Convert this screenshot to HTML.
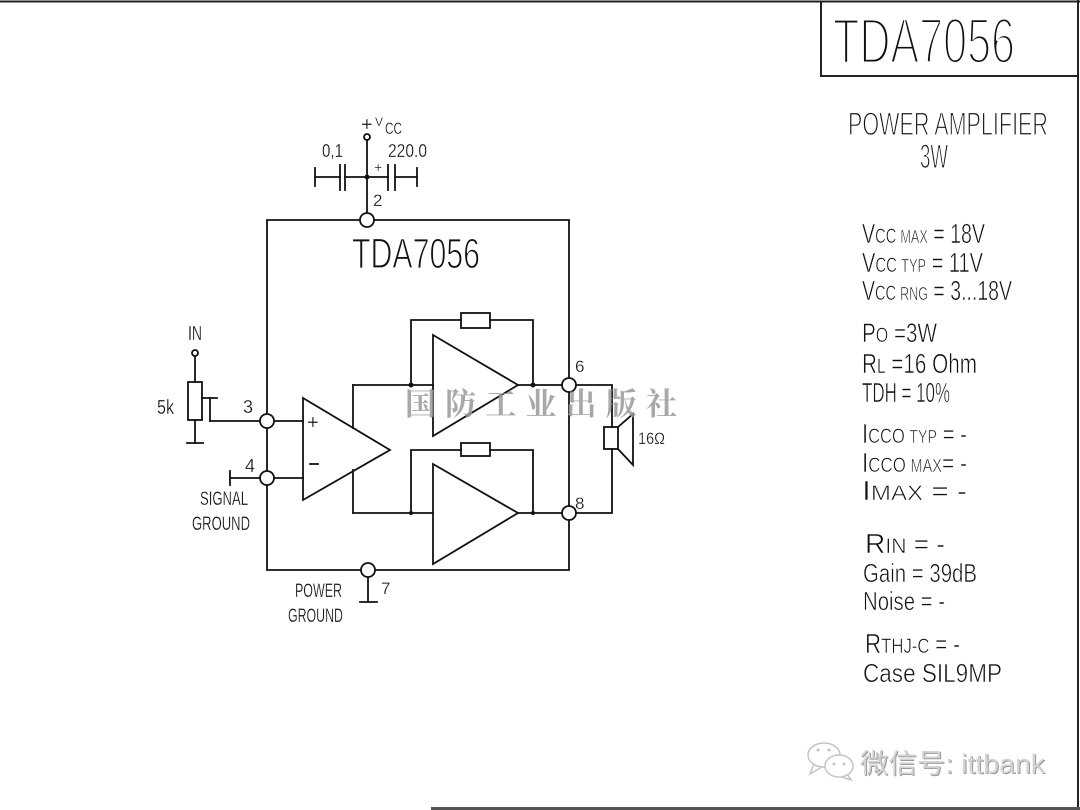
<!DOCTYPE html>
<html><head><meta charset="utf-8"><style>
html,body{margin:0;padding:0;background:#fff;}
svg{display:block;}
text{font-family:"Liberation Sans","Noto Sans CJK SC",sans-serif;fill:#111;}
.t1{stroke:#fff;stroke-width:3;}
.t2{stroke:#fff;stroke-width:1.2;}
.t3{stroke:#fff;stroke-width:0.6;}
.t4{stroke:#fff;stroke-width:0.25;}
</style></head><body>
<svg width="1080" height="810" viewBox="0 0 1080 810" xmlns="http://www.w3.org/2000/svg" xml:space="preserve">
<rect width="1080" height="810" fill="#fff"/>
<!-- frame -->
<line x1="0" y1="1.5" x2="1080" y2="1.5" stroke="#222" stroke-width="2"/>
<line x1="1078" y1="0" x2="1078" y2="810" stroke="#222" stroke-width="2"/>
<line x1="431" y1="808.5" x2="1080" y2="808.5" stroke="#555" stroke-width="3"/>
<rect x="821" y="1.5" width="257" height="74.5" fill="none" stroke="#222" stroke-width="2"/>
<text class="t1" x="833" y="63" font-size="64" textLength="182" lengthAdjust="spacingAndGlyphs">TDA7056</text>
<text class="t2" x="848" y="135" font-size="32" textLength="200" lengthAdjust="spacingAndGlyphs">POWER  AMPLIFIER</text>
<text class="t2" x="920" y="168" font-size="34" textLength="28" lengthAdjust="spacingAndGlyphs">3W</text>

<!-- specs -->
<g class="t3">
<text x="862" y="243" textLength="123" lengthAdjust="spacingAndGlyphs"><tspan font-size="28">V</tspan><tspan font-size="21">CC </tspan><tspan font-size="18">MAX</tspan><tspan font-size="28"> = 18V</tspan></text>
<text x="862" y="272" textLength="121" lengthAdjust="spacingAndGlyphs"><tspan font-size="28">V</tspan><tspan font-size="21">CC </tspan><tspan font-size="18">TYP</tspan><tspan font-size="28">  = 11V</tspan></text>
<text x="862" y="300" textLength="150" lengthAdjust="spacingAndGlyphs"><tspan font-size="28">V</tspan><tspan font-size="21">CC </tspan><tspan font-size="18">RNG</tspan><tspan font-size="28"> = 3...18V</tspan></text>
<text x="862" y="342" textLength="75" lengthAdjust="spacingAndGlyphs"><tspan font-size="27">P</tspan><tspan font-size="21">O</tspan><tspan font-size="27">  =3W</tspan></text>
<text x="862" y="373" textLength="115" lengthAdjust="spacingAndGlyphs"><tspan font-size="28">R</tspan><tspan font-size="21">L</tspan><tspan font-size="28">  =16  Ohm</tspan></text>
<text x="862" y="402" font-size="28" textLength="88" lengthAdjust="spacingAndGlyphs">TDH = 10%</text>
<text x="862" y="443" textLength="105" lengthAdjust="spacingAndGlyphs"><tspan font-size="28">I</tspan><tspan font-size="21">CCO </tspan><tspan font-size="18">TYP</tspan><tspan font-size="26"> = -</tspan></text>
<text x="862" y="472" textLength="105" lengthAdjust="spacingAndGlyphs"><tspan font-size="28">I</tspan><tspan font-size="21">CCO </tspan><tspan font-size="18">MAX</tspan><tspan font-size="26">= -</tspan></text>
<text x="862" y="500" textLength="105" lengthAdjust="spacingAndGlyphs"><tspan font-size="28">I</tspan><tspan font-size="21">MAX</tspan><tspan font-size="26">  =     -</tspan></text>
<text x="865" y="553" textLength="80" lengthAdjust="spacingAndGlyphs"><tspan font-size="28">R</tspan><tspan font-size="21">IN</tspan><tspan font-size="26">   =  -</tspan></text>
<text x="863" y="582" font-size="26" textLength="114" lengthAdjust="spacingAndGlyphs">Gain  =  39dB</text>
<text x="863" y="610" font-size="26" textLength="82" lengthAdjust="spacingAndGlyphs">Noise = -</text>
<text x="865" y="653" textLength="95" lengthAdjust="spacingAndGlyphs"><tspan font-size="28">R</tspan><tspan font-size="21">THJ-C</tspan><tspan font-size="26"> = -</tspan></text>
<text x="863" y="682" font-size="26" textLength="139" lengthAdjust="spacingAndGlyphs">Case SIL9MP</text>
</g>

<!-- wechat watermark -->
<g fill="none" stroke="#c4c4c4" stroke-width="1.5">
<ellipse cx="824" cy="755" rx="16" ry="12"/>
<path d="M814 764 L810 774 L822 767"/>
<ellipse cx="839" cy="766" rx="14" ry="11" fill="#fff"/>
<path d="M847 774 L851 780 L842 777"/>
</g>
<g fill="#c4c4c4"><circle cx="818" cy="750" r="1.5"/><circle cx="829" cy="750" r="1.5"/><circle cx="834" cy="764" r="1.5"/><circle cx="844" cy="764" r="1.5"/></g>
<text x="861" y="774" font-size="27" style="fill:#9a9a9a" textLength="185" lengthAdjust="spacingAndGlyphs">微信号: ittbank</text>
<text x="860" y="773" font-size="27" style="fill:#d4d4d4" textLength="185" lengthAdjust="spacingAndGlyphs">微信号: ittbank</text>

<!-- circuit -->
<g stroke="#111" stroke-width="1.8" fill="none" stroke-linecap="square">
<line x1="367" y1="140" x2="367" y2="213"/>
<line x1="315" y1="177" x2="340" y2="177"/>
<line x1="345" y1="177" x2="388" y2="177"/>
<line x1="395" y1="177" x2="417" y2="177"/>
<line x1="340" y1="165" x2="340" y2="190"/>
<line x1="345" y1="165" x2="345" y2="190"/>
<line x1="388" y1="165" x2="388" y2="190"/>
<line x1="395" y1="165" x2="395" y2="190"/>
<line x1="315" y1="168" x2="315" y2="186"/>
<line x1="417" y1="168" x2="417" y2="186"/>
<polyline points="267,220 569,220 569,570 267,570 267,220"/>
<line x1="195" y1="356" x2="195" y2="382"/>
<rect x="188" y="382" width="14" height="38"/>
<line x1="195" y1="420" x2="195" y2="443"/>
<line x1="187" y1="443" x2="203" y2="443"/>
<line x1="202" y1="398" x2="217" y2="398"/>
<line x1="210" y1="398" x2="210" y2="421"/>
<line x1="210" y1="421" x2="262" y2="421"/>
<line x1="272" y1="421" x2="303" y2="421"/>
<line x1="272" y1="478" x2="303" y2="478"/>
<line x1="230" y1="478" x2="262" y2="478"/>
<line x1="230" y1="471" x2="230" y2="485"/>
<polygon points="303,398 390,450 303,500"/>
<line x1="310" y1="464" x2="318" y2="464"/>
<line x1="353" y1="385" x2="353" y2="428"/>
<line x1="353" y1="470" x2="353" y2="513"/>
<line x1="353" y1="385" x2="433" y2="385"/>
<line x1="353" y1="513" x2="433" y2="513"/>
<polygon points="433,335 518,385 433,436"/>
<polyline points="411,385 411,320 461,320"/>
<rect x="461" y="313" width="29" height="15"/>
<polyline points="490,320 533,320 533,385"/>
<line x1="518" y1="385" x2="562" y2="385"/>
<polygon points="433,464 518,513 433,564"/>
<polyline points="411,513 411,450 461,450"/>
<rect x="461" y="443" width="29" height="13"/>
<polyline points="490,450 533,450 533,513"/>
<line x1="518" y1="513" x2="562" y2="513"/>
<polyline points="576,385 612,385 612,427"/>
<rect x="604" y="427" width="14" height="22"/>
<polyline points="612,449 612,513 576,513"/>
<polyline points="618,427 633,414 633,465 618,449"/>
<line x1="368" y1="577" x2="368" y2="602"/>
<line x1="360" y1="602" x2="377" y2="602"/>
</g>
<g stroke="#111" stroke-width="1.8" fill="#fff">
<circle cx="367" cy="220" r="7"/>
<circle cx="267" cy="421" r="7"/>
<circle cx="267" cy="478" r="7"/>
<circle cx="368" cy="570" r="7"/>
<circle cx="569" cy="385" r="7"/>
<circle cx="569" cy="513" r="7"/>
<circle cx="367" cy="137" r="3"/>
<circle cx="195" cy="353" r="3"/>
</g>
<g fill="#111">
<circle cx="367" cy="177" r="2.5"/>
<circle cx="411" cy="385" r="2.5"/>
<circle cx="533" cy="385" r="2.5"/>
<circle cx="411" cy="513" r="2"/>
<circle cx="533" cy="513" r="2"/>
</g>

<!-- circuit labels -->
<g class="t4">
<text x="361" y="131" font-size="20">+</text>
<text x="375" y="126" font-size="12">V</text>
<text x="385" y="134" font-size="17" textLength="17" lengthAdjust="spacingAndGlyphs">CC</text>
<text x="322" y="157" font-size="18" textLength="21" lengthAdjust="spacingAndGlyphs">0,1</text>
<text x="388" y="157" font-size="18" textLength="39" lengthAdjust="spacingAndGlyphs">220.0</text>
<text x="374" y="172" font-size="14">+</text>
<text x="373" y="206" font-size="17">2</text>
<text x="243" y="413" font-size="18">3</text>
<text x="245" y="472" font-size="18">4</text>
<text x="307" y="429" font-size="20">+</text>
<text x="188" y="340" font-size="20" textLength="14" lengthAdjust="spacingAndGlyphs">IN</text>
<text x="157" y="414" font-size="20" textLength="17" lengthAdjust="spacingAndGlyphs">5k</text>
<text x="200" y="505" font-size="19" textLength="48" lengthAdjust="spacingAndGlyphs">SIGNAL</text>
<text x="192" y="530" font-size="19" textLength="58" lengthAdjust="spacingAndGlyphs">GROUND</text>
<text x="295" y="597" font-size="19" textLength="47" lengthAdjust="spacingAndGlyphs">POWER</text>
<text x="288" y="622" font-size="19" textLength="55" lengthAdjust="spacingAndGlyphs">GROUND</text>
<text x="381" y="594" font-size="17">7</text>
<text x="575" y="372" font-size="17">6</text>
<text x="575" y="509" font-size="17">8</text>
<text x="638" y="444" font-size="17" textLength="27" lengthAdjust="spacingAndGlyphs">16Ω</text>
</g>
<text class="t2" x="352" y="268" font-size="43" textLength="128" lengthAdjust="spacingAndGlyphs">TDA7056</text>

<!-- publisher watermark -->
<text x="405" y="415" font-size="31" font-weight="bold" style="fill:#999;font-family:'Noto Serif CJK SC','Noto Sans CJK SC',serif" fill-opacity="0.85" textLength="272" lengthAdjust="spacing">国防工业出版社</text>
</svg>
</body></html>
